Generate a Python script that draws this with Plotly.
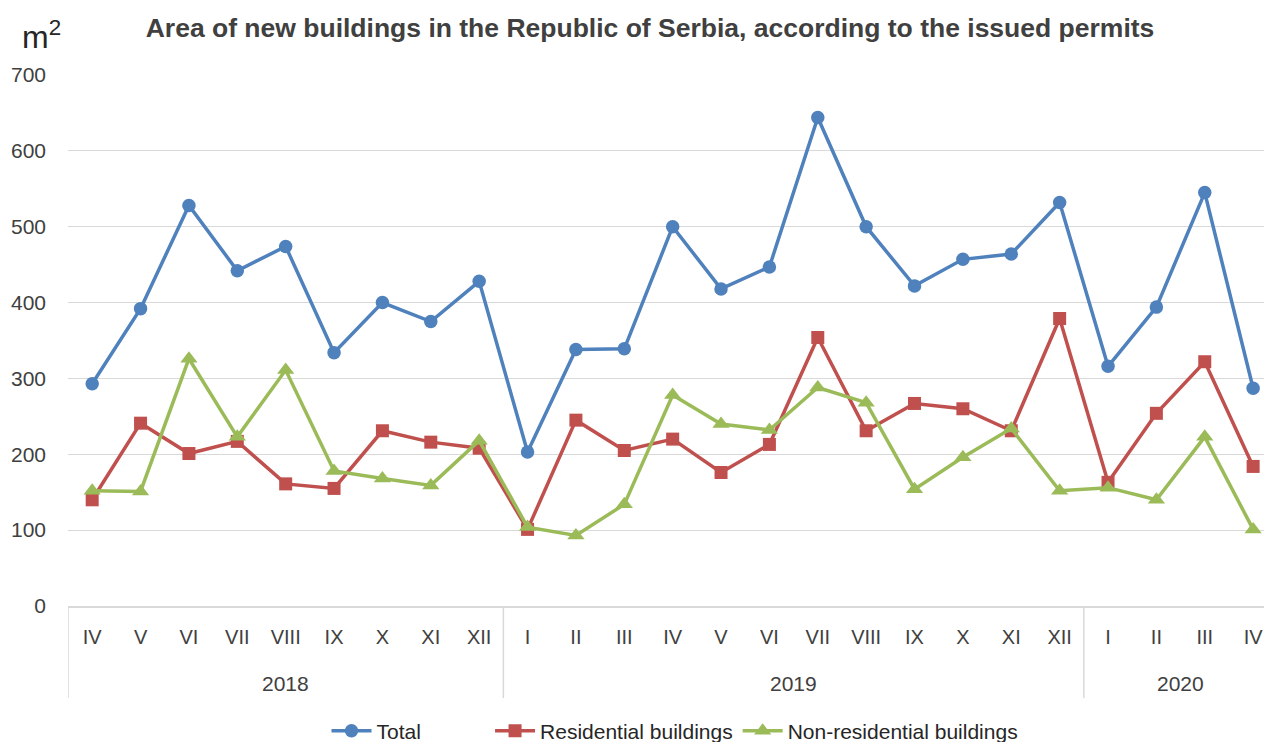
import plotly.graph_objects as go

months = ["IV", "V", "VI", "VII", "VIII", "IX", "X", "XI", "XII",
          "I", "II", "III", "IV", "V", "VI", "VII", "VIII", "IX", "X", "XI", "XII",
          "I", "II", "III", "IV"]
years = ["2018", "2019", "2020"]
months_per_year = [9, 12, 4]

total = [293, 392, 528, 442, 474, 334, 400, 375, 428,
         203, 338, 339, 500, 418, 447, 644, 500, 422, 457, 464, 532,
         316, 394, 545, 287]
residential = [140, 241, 201, 217, 161, 155, 231, 216, 208,
               101, 245, 205, 220, 176, 213, 354, 231, 267, 260, 231, 379,
               163, 254, 322, 184]
non_residential = [152, 151, 326, 223, 311, 178, 168, 159, 218,
                   104, 93, 134, 278, 240, 232, 288, 268, 154, 196, 234, 152,
                   156, 140, 223, 101]

idx = list(range(len(months)))

# The page body adds an 8px offset, so the figure is sized/placed to compensate.
W, H = 1264, 734
OFF = 8

fig = go.Figure()
fig.add_trace(go.Scatter(x=idx, y=total, name="Total" + "\u00a0" * 11, mode="lines+markers",
                         line=dict(color="#4F81BD", width=3.5),
                         marker=dict(symbol="circle", size=13.5, color="#4F81BD")))
fig.add_trace(go.Scatter(x=idx, y=residential, name="Residential buildings", mode="lines+markers",
                         line=dict(color="#C0504D", width=3.5),
                         marker=dict(symbol="square", size=13, color="#C0504D")))
fig.add_trace(go.Scatter(x=idx, y=non_residential, name="Non-residential buildings", mode="lines+markers",
                         line=dict(color="#9BBB59", width=3.5),
                         marker=dict(symbol="triangle-up", size=15, color="#9BBB59")))

plot_h = 531
annotations = []
shapes = []
start = -0.5
for yr, n in zip(years, months_per_year):
    end = start + n
    annotations.append(dict(text=yr, x=(start + end) / 2, xref="x", y=-(683 - 606) / plot_h, yref="paper",
                            xanchor="center", yanchor="middle", showarrow=False,
                            font=dict(size=21, color="#404040")))
    shapes.append(dict(type="line", xref="x", yref="paper", x0=start, x1=start,
                       y0=0, y1=-(698 - 606) / plot_h, line=dict(color="#D9D9D9", width=1.5)))
    start = end
shapes.append(dict(type="line", xref="x", yref="paper", x0=start, x1=start,
                   y0=0, y1=-(698 - 606) / plot_h, line=dict(color="#D9D9D9", width=1.5)))

annotations.append(dict(text="m<sup>2</sup>", xref="paper", yref="paper",
                        x=-(68 - 20) / 1204, y=1 + (75 - 35) / plot_h, xanchor="left", yanchor="middle",
                        showarrow=False, font=dict(size=32, color="#262626")))

fig.update_layout(
    width=W, height=H,
    margin=dict(l=68 - OFF, r=0, t=75 - OFF, b=H - (606 - OFF)),
    paper_bgcolor="white", plot_bgcolor="white",
    font=dict(family="Liberation Sans, Arial, sans-serif", color="#404040", size=20),
    title=dict(text="<b>Area of new buildings in the Republic of Serbia, according to the issued permits</b>",
               x=(650 - OFF) / W, xanchor="center", xref="container",
               y=1 - (28 - OFF) / H, yanchor="middle", yref="container",
               font=dict(size=26.5, color="#404040")),
    showlegend=True,
    legend=dict(orientation="h", x=(675 - OFF) / W, xanchor="center", xref="container",
                y=1 - (731 - OFF) / H, yanchor="middle", yref="container",
                font=dict(size=21, color="#262626"), itemwidth=40),
    annotations=annotations,
    shapes=shapes,
)

fig.update_yaxes(range=[0, 700], dtick=100, showgrid=True, gridcolor="#D9D9D9", gridwidth=1.3,
                 zeroline=False, showline=False, ticks="", tickfont=dict(size=21, color="#404040"),
                 ticklabelstandoff=21)
fig.update_xaxes(range=[-0.5, 24.39], tickvals=idx, ticktext=months, showgrid=False,
                 showline=True, linecolor="#D9D9D9", linewidth=1.5, zeroline=False,
                 ticks="", tickangle=0, tickfont=dict(size=20, color="#404040"),
                 ticklabelstandoff=12)

fig.write_html("out.html")
